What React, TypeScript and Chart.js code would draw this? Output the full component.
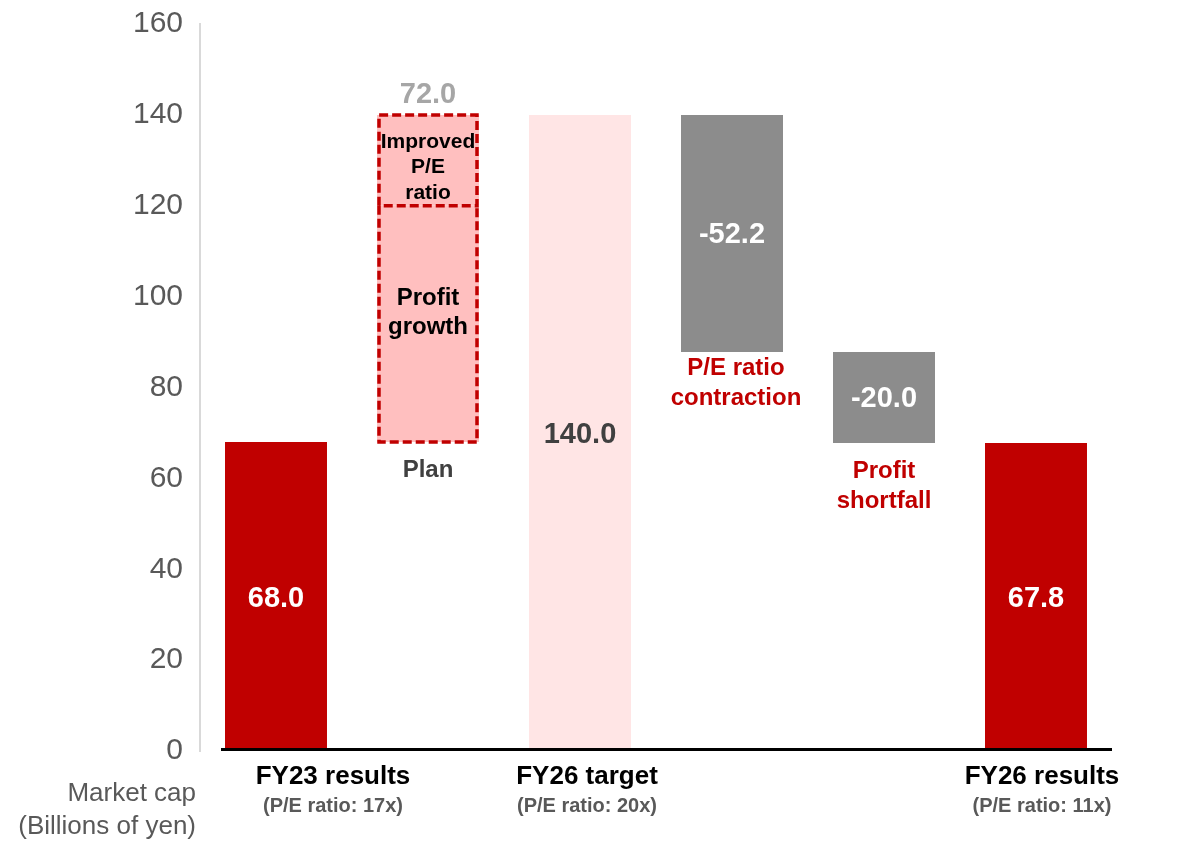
import { useEffect, useRef } from "react";
import { Chart, registerables } from "chart.js";

Chart.register(...registerables);

// ---- data ----
const categories = ["FY23 results", "Plan", "FY26 target", "P/E ratio contraction", "Profit shortfall", "FY26 results"];
const barRanges: [number, number][] = [[0, 68], [68, 120], [0, 140], [87.8, 140], [67.8, 87.8], [0, 67.8]];
const planUpperRanges: ([number, number] | null)[] = [null, [120, 140], null, null, null, null];
const valueLabels = ["68.0", "", "140.0", "-52.2", "-20.0", "67.8"];
const planTotalLabel = "72.0";
const planUpperText = ["Improved", "P/E", "ratio"];
const planLowerText = ["Profit", "growth"];
const belowBarText: string[][] = [[], ["Plan"], [], ["P/E ratio", "contraction"], ["Profit", "shortfall"], []];
const axisTitles = ["FY23 results", "", "FY26 target", "", "", "FY26 results"];
const axisSubtitles = ["(P/E ratio: 17x)", "", "(P/E ratio: 20x)", "", "", "(P/E ratio: 11x)"];
const yAxisTitle = ["Market cap", "(Billions of yen)"];
const yMin = 0;
const yMax = 160;
const yStep = 20;

// ---- styles ----
const barColors = ["#C00000", "#FFBFBF", "#FFE5E5", "#8C8C8C", "#8C8C8C", "#C00000"];
const valueColors = ["#FFFFFF", "#FFFFFF", "#404040", "#FFFFFF", "#FFFFFF", "#FFFFFF"];
const belowColors = ["", "#404040", "", "#C00000", "#C00000", ""];
const titleOffsets = [57, 0, 7, 0, 0, 6];
const FF = '"Liberation Sans", Arial, sans-serif';

function txt(ctx: CanvasRenderingContext2D, s: string, x: number, y: number, font: string, color: string, align: CanvasTextAlign = "center") {
  ctx.font = font;
  ctx.fillStyle = color;
  ctx.textAlign = align;
  ctx.textBaseline = "middle";
  ctx.fillText(s, x, y);
}

const annotatePlugin = {
  id: "annotate",
  afterDatasetsDraw(chart: any) {
    const { ctx, chartArea, scales } = chart;
    const xs = scales.x;
    const ys = scales.y;
    const meta0 = chart.getDatasetMeta(0);
    const meta1 = chart.getDatasetMeta(1);
    ctx.save();

    // x-axis baseline
    const y0 = ys.getPixelForValue(0);
    ctx.strokeStyle = "#000000";
    ctx.lineWidth = 3;
    ctx.beginPath();
    ctx.moveTo(chartArea.left + 21, y0 - 1.5);
    ctx.lineTo(chartArea.right, y0 - 1.5);
    ctx.stroke();

    // dashed borders on plan bars
    const dashRect = (el: any, withTop: boolean) => {
      const p = el.getProps(["x", "y", "base", "width"], true);
      const l = p.x - p.width / 2 + 2;
      const r = p.x + p.width / 2 - 2;
      const t = Math.min(p.y, p.base);
      const b = Math.max(p.y, p.base);
      ctx.strokeStyle = "#C00000";
      ctx.lineWidth = 3.5;
      ctx.setLineDash([9, 4]);
      ctx.beginPath();
      if (withTop) {
        ctx.moveTo(l, b);
        ctx.lineTo(l, t);
        ctx.lineTo(r, t);
        ctx.lineTo(r, b);
        ctx.lineTo(l, b);
      } else {
        ctx.moveTo(l, t);
        ctx.lineTo(l, b);
        ctx.lineTo(r, b);
        ctx.lineTo(r, t);
      }
      ctx.stroke();
      ctx.setLineDash([]);
    };
    dashRect(meta1.data[1], true);
    dashRect(meta0.data[1], false);

    // value labels centred in bars
    meta0.data.forEach((el: any, i: number) => {
      if (!valueLabels[i]) return;
      const p = el.getProps(["x", "y", "base"], true);
      txt(ctx, valueLabels[i], p.x, (p.y + p.base) / 2 + 2, `bold 29px ${FF}`, valueColors[i]);
    });

    // plan annotations
    const planTop = meta1.data[1].getProps(["x", "y", "base"], true);
    txt(ctx, planTotalLabel, planTop.x, planTop.y - 20, `bold 29px ${FF}`, "#A6A6A6");
    const uc = (planTop.y + planTop.base) / 2 + 7;
    planUpperText.forEach((s, k) => txt(ctx, s, planTop.x, uc + (k - 1) * 25.5, `bold 21px ${FF}`, "#000000"));
    const planLow = meta0.data[1].getProps(["x", "y", "base"], true);
    const lc = (planLow.y + planLow.base) / 2 - 11;
    planLowerText.forEach((s, k) => txt(ctx, s, planLow.x, lc + (k - 0.5) * 29, `bold 24px ${FF}`, "#000000"));

    // text below floating bars
    meta0.data.forEach((el: any, i: number) => {
      const lines = belowBarText[i];
      if (!lines.length) return;
      const p = el.getProps(["x", "base"], true);
      const first = i === 3 ? 16 : 28;
      lines.forEach((s, k) => txt(ctx, s, p.x + (i === 3 ? 4 : 0), p.base + first + k * 30, `bold 24px ${FF}`, belowColors[i]));
    });

    // category titles under axis
    categories.forEach((_, i) => {
      if (!axisTitles[i]) return;
      const cx = xs.getPixelForValue(i) + titleOffsets[i];
      txt(ctx, axisTitles[i], cx, y0 + 26, `bold 26px ${FF}`, "#000000");
      txt(ctx, axisSubtitles[i], cx, y0 + 55, `bold 20px ${FF}`, "#595959");
    });

    // y-axis title
    txt(ctx, yAxisTitle[0], chartArea.left - 4, y0 + 43, `26px ${FF}`, "#595959", "right");
    txt(ctx, yAxisTitle[1], chartArea.left - 4, y0 + 76, `26px ${FF}`, "#595959", "right");

    ctx.restore();
  },
};

export default function App() {
  const ref = useRef<HTMLCanvasElement | null>(null);
  useEffect(() => {
    if (!ref.current) return;
    const chart = new Chart(ref.current, {
      type: "bar",
      data: {
        labels: categories,
        datasets: [
          {
            data: barRanges as any,
            backgroundColor: barColors,
            borderWidth: 0,
            grouped: false,
            barPercentage: 0.671,
            categoryPercentage: 1,
          } as any,
          {
            data: planUpperRanges as any,
            backgroundColor: "#FFBFBF",
            borderWidth: 0,
            grouped: false,
            barPercentage: 0.671,
            categoryPercentage: 1,
          } as any,
        ],
      },
      options: {
        responsive: false,
        animation: false,
        devicePixelRatio: 1,
        layout: { padding: { top: 24, right: 66, bottom: 92, left: 0 } },
        plugins: { legend: { display: false }, tooltip: { enabled: false } },
        scales: {
          x: { type: "category", offset: true, display: false, grid: { display: false } },
          y: {
            min: yMin,
            max: yMax,
            ticks: { stepSize: yStep, color: "#595959", font: { family: FF, size: 30 }, padding: 17 },
            grid: { display: false, drawTicks: false },
            border: { display: true, color: "#D9D9D9", width: 2 },
            afterFit: (s: any) => {
              s.width = 200;
              s.paddingTop = 0;
              s.paddingBottom = 0;
            },
          },
        },
      },
      plugins: [annotatePlugin],
    });
    return () => chart.destroy();
  }, []);
  return (
    <div style={{ position: "fixed", left: 0, top: 0, width: 1178, height: 843, background: "#fff" }}>
      <canvas ref={ref} width={1178} height={843} style={{ display: "block" }} />
    </div>
  );
}
